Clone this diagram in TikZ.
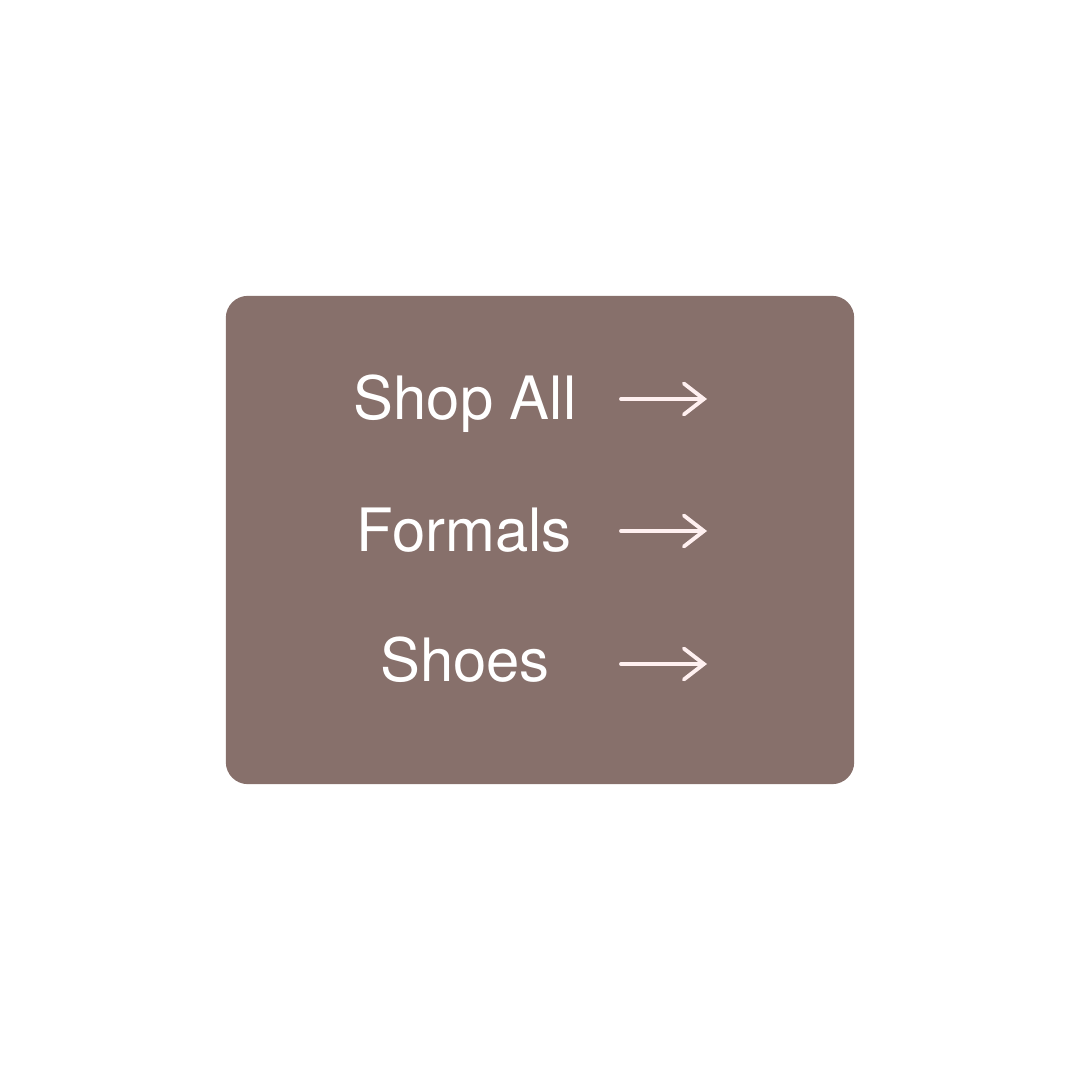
\documentclass[tikz,border=0pt]{standalone}
\usepackage{fontspec}
\setmainfont{TeX Gyre Heros}
\usetikzlibrary{positioning}
\usetikzlibrary{arrows.meta}
\definecolor{boxbrown}{HTML}{87706B}
\definecolor{arrowpink}{HTML}{FFF0F0}

\begin{document}
\begin{tikzpicture}[
  x=0.01cm, y=-0.01cm,
  menuitem/.style={text=white,font=\fontsize{17}{20}\selectfont,inner sep=0pt,anchor=base},
  navarrow/.style={draw=arrowpink,line width=1.1pt,line cap=round,
    -{Straight Barb[length=0.2cm,width=0.31cm,line cap=round]}}
]
\useasboundingbox (0,0) rectangle (1080,1080);

\node[fill=boxbrown,rounded corners=0.22cm,minimum width=6.28cm,minimum height=4.88cm,inner sep=0pt] (menu) at (540,540) {};

\node[menuitem] (shopall) at (465,420) {Shop All};
\node[menuitem] (formals) at (464,551) {Formals};
\node[menuitem] (shoes) at (465,681) {Shoes};

\coordinate (s1) at (621,399);
\coordinate (e1) at (707,399);
\coordinate (s2) at (621,531);
\coordinate (e2) at (707,531);
\coordinate (s3) at (621,664);
\coordinate (e3) at (707,664);
\draw[navarrow] (s1) -- (e1);
\draw[navarrow] (s2) -- (e2);
\draw[navarrow] (s3) -- (e3);
\end{tikzpicture}
\end{document}
